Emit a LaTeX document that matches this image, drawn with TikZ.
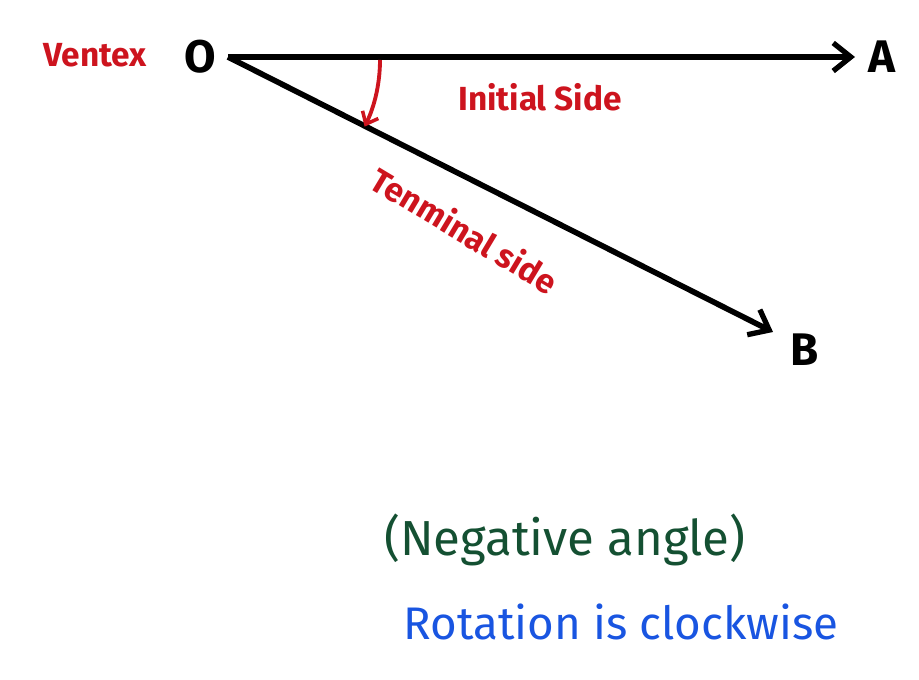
\documentclass[tikz,border=0pt]{standalone}
\usepackage{fontspec}
\setmainfont{Fira Sans}
\usetikzlibrary{arrows.meta}
\definecolor{penred}{RGB}{205,20,30}
\definecolor{pengreen}{RGB}{20,80,50}
\definecolor{penblue}{RGB}{25,85,225}
\tikzset{
  side/.style={line width=3.2pt, -{Straight Barb[length=10pt,width=16pt,line width=3pt]}},
  redlabel/.style={text=penred, font=\bfseries\fontsize{19}{21}\selectfont},
  pointlabel/.style={font=\bfseries\fontsize{26}{28}\selectfont}
}
\begin{document}
\begin{tikzpicture}
\useasboundingbox (0,0) rectangle (18.38,13.6);
% Angle
\coordinate (o) at (4.56,12.46);
\coordinate (a) at (17.1,12.46);
\coordinate (b) at (15.46,6.96);
\node[pointlabel] (olabel) at (4.0,12.46) {O};
\node[pointlabel] (alabel) at (17.64,12.46) {A};
\node[pointlabel] (blabel) at (16.1,6.6) {B};
\node[redlabel] (vertex) at (1.9,12.5) {Ventex};
\draw[side] (o) -- (a);
\draw[side] (o) -- (b);
\draw[penred, line width=2.2pt, -{Straight Barb[length=6pt,width=10pt,line width=2pt]}] (7.6,12.4) arc (0:-26:3.04);
\node[redlabel] (initial) at (10.8,11.66) {Initial Side};
\node[redlabel, rotate=-31] (terminal) at (9.3,9.0) {Tenminal side};
% Notes
\node[text=pengreen, font=\fontsize{28}{32}\selectfont] (negative) at (11.3,2.8) {(Negative angle)};
\node[text=penblue, font=\fontsize{26}{30}\selectfont] (rotation) at (12.42,1.16) {Rotation is clockwise};
\end{tikzpicture}
\end{document}
